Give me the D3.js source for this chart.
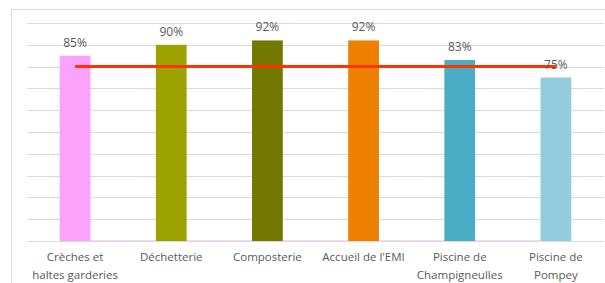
<!DOCTYPE html>
<head>
    <meta charset="utf-8">
    <script src="https://cdnjs.cloudflare.com/ajax/libs/d3/7.9.0/d3.js"></script>
    <style>
        body { margin: 0; background: #fff; }
        text { font-family: "Open Sans", sans-serif; fill: #595959; }
    </style>
</head>

<body>
    <div id="chart"></div>
</body>

<script>

// data

const categories = [
    ["Crèches et", "haltes garderies"],
    ["Déchetterie"],
    ["Composterie"],
    ["Accueil de l'EMI"],
    ["Piscine de", "Champigneulles"],
    ["Piscine de", "Pompey"]
]
const rates = [0.85, 0.90, 0.92, 0.92, 0.83, 0.75]
const target = [0.80, 0.80, 0.80, 0.80, 0.80, 0.80]
const baseSeries = [0, 0, 0, 0, 0, 0]
const barColors = ["#fba3fb", "#9ca300", "#737800", "#ef7f00", "#4bacc6", "#93cddd"]
const yTicks = [0, 0.1, 0.2, 0.3, 0.4, 0.5, 0.6, 0.7, 0.8, 0.9, 1]

const W = 605, H = 283
const plot = {left: 27, right: 604, top: 23, bottom: 241}

const svg = d3.select("#chart")
    .append("svg")
    .attr("width", W)
    .attr("height", H)

// chart frame (cropped on the right and bottom)
svg.append("rect")
    .attr("x", 11.5)
    .attr("y", 9.5)
    .attr("width", 620)
    .attr("height", 300)
    .attr("fill", "none")
    .attr("stroke", "#d9d9d9")

const x = d3.scalePoint()
    .domain(d3.range(categories.length))
    .range([plot.left, plot.right])
    .padding(0.5)

const y = d3.scaleLinear()
    .domain([0, 1])
    .range([plot.bottom, plot.top])

const barW = x.step() * 0.32

// gridlines
svg.append("g")
    .selectAll("line")
    .data(yTicks)
    .join("line")
    .attr("x1", plot.left)
    .attr("x2", plot.right)
    .attr("y1", d => Math.round(y(d)) + 0.5)
    .attr("y2", d => Math.round(y(d)) + 0.5)
    .attr("stroke", "#d9d9d9")
    .attr("stroke-width", 1)

const line = d3.line()
    .x((d, i) => x(i))
    .y(d => y(d))

// faint zero series along the baseline, behind the bars
svg.append("path")
    .datum(baseSeries)
    .attr("fill", "none")
    .attr("stroke", "#ecd0ea")
    .attr("stroke-width", 1.5)
    .attr("d", line)

// bars
svg.append("g")
    .selectAll("rect")
    .data(rates)
    .join("rect")
    .attr("x", (d, i) => x(i) - barW / 2)
    .attr("y", d => y(d))
    .attr("width", barW)
    .attr("height", d => y(0) - y(d))
    .attr("fill", (d, i) => barColors[i])

// target line
svg.append("path")
    .datum(target)
    .attr("fill", "none")
    .attr("stroke", "#ff3300")
    .attr("stroke-width", 3)
    .attr("d", line)

// value labels
svg.append("g")
    .selectAll("text")
    .data(rates)
    .join("text")
    .attr("x", (d, i) => x(i))
    .attr("y", d => y(d) - 9)
    .attr("text-anchor", "middle")
    .attr("font-size", "12px")
    .text(d => Math.round(d * 100) + "%")

// category labels
const cat = svg.append("g")
    .selectAll("text")
    .data(categories)
    .join("text")
    .attr("x", (d, i) => x(i))
    .attr("y", 261)
    .attr("text-anchor", "middle")
    .attr("font-size", "11.5px")

cat.selectAll("tspan")
    .data(d => d)
    .join("tspan")
    .attr("x", function() { return d3.select(this.parentNode).attr("x") })
    .attr("dy", (d, i) => i === 0 ? 0 : 18)
    .text(d => d)

</script>
